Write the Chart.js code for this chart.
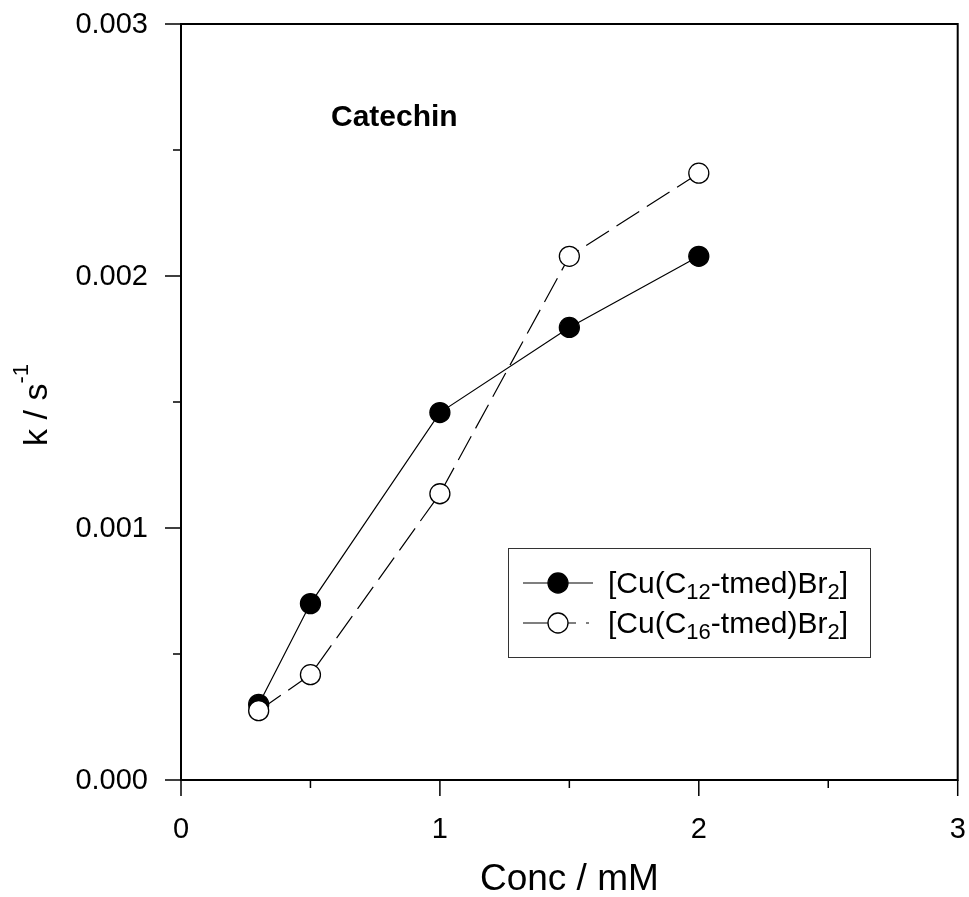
<!DOCTYPE html>
<html>
<head>
<meta charset="utf-8">
<script src="https://cdn.jsdelivr.net/npm/chart.js@4.4.1/dist/chart.umd.min.js"></script>
<style>
  html, body { margin: 0; padding: 0; background: #fff; overflow: hidden; }
  #wrap { width: 969px; height: 897px; position: relative; }
  canvas { display: block; }
</style>
</head>
<body>
<div id="wrap"><canvas id="c" width="969" height="897"></canvas></div>
<script>
// ---- data ----
const concC12 = [0.3, 0.5, 1.0, 1.5, 2.0];
const kC12    = [0.00030, 0.00070, 0.001458, 0.001796, 0.002078];
const concC16 = [0.3, 0.5, 1.0, 1.5, 2.0];
const kC16    = [0.000275, 0.000418, 0.001136, 0.002078, 0.002408];
const xMajorTicks = [0, 1, 2, 3];
const xMinorTicks = [0.5, 1.5, 2.5];
const yMajorTicks = [0, 0.001, 0.002, 0.003];
const yMinorTicks = [0.0005, 0.0015, 0.0025];
const yTickLabels = ['0.000', '0.001', '0.002', '0.003'];
const xTickLabels = ['0', '1', '2', '3'];
const chartLabel = 'Catechin';
const xTitle = 'Conc / mM';

const FONT = '"Liberation Sans", Arial, Helvetica, sans-serif';

function pts(xs, ys) { return xs.map((x, i) => ({ x: x, y: ys[i] })); }

const decor = {
  id: 'decor',
  afterDraw(chart) {
    const ctx = chart.ctx;
    const a = chart.chartArea;
    const xs = chart.scales.x, ys = chart.scales.y;
    ctx.save();
    // frame
    ctx.strokeStyle = '#000';
    ctx.lineWidth = 2;
    ctx.strokeRect(a.left, a.top, a.right - a.left, a.bottom - a.top);
    // ticks
    ctx.lineWidth = 1.5;
    ctx.beginPath();
    xMajorTicks.forEach(v => { const p = xs.getPixelForValue(v); ctx.moveTo(p, a.bottom); ctx.lineTo(p, a.bottom + 16); });
    xMinorTicks.forEach(v => { const p = xs.getPixelForValue(v); ctx.moveTo(p, a.bottom); ctx.lineTo(p, a.bottom + 8); });
    yMajorTicks.forEach(v => { const p = ys.getPixelForValue(v); ctx.moveTo(a.left, p); ctx.lineTo(a.left - 16, p); });
    yMinorTicks.forEach(v => { const p = ys.getPixelForValue(v); ctx.moveTo(a.left, p); ctx.lineTo(a.left - 8, p); });
    ctx.stroke();

    // tick labels
    ctx.fillStyle = '#000';
    ctx.font = '29px ' + FONT;
    ctx.textAlign = 'right';
    ctx.textBaseline = 'middle';
    yMajorTicks.forEach((v, i) => { ctx.fillText(yTickLabels[i], a.left - 33, ys.getPixelForValue(v) + 1); });
    ctx.textAlign = 'center';
    ctx.textBaseline = 'alphabetic';
    xMajorTicks.forEach((v, i) => { ctx.fillText(xTickLabels[i], xs.getPixelForValue(v), a.bottom + 58); });

    // x title
    ctx.font = '37px ' + FONT;
    ctx.fillText(xTitle, (a.left + a.right) / 2, 890);

    // y title with superscript
    ctx.save();
    ctx.translate(47, 405);
    ctx.rotate(-Math.PI / 2);
    ctx.textAlign = 'left';
    ctx.font = '34px ' + FONT;
    const base = 'k / s';
    const w = ctx.measureText(base).width;
    ctx.font = '22px ' + FONT;
    const wsup = ctx.measureText('-1').width;
    const total = w + wsup;
    ctx.font = '34px ' + FONT;
    ctx.fillText(base, -total / 2, 0);
    ctx.font = '22px ' + FONT;
    ctx.fillText('-1', -total / 2 + w, -19);
    ctx.restore();

    // chart label
    ctx.font = 'bold 30px ' + FONT;
    ctx.textAlign = 'left';
    ctx.fillText(chartLabel, 331, 126);

    // legend
    const lx = 508, ly = 548, lw = 362, lh = 109;
    ctx.lineWidth = 1;
    ctx.strokeStyle = '#333';
    ctx.strokeRect(lx + 0.5, ly + 0.5, lw, lh);

    const rows = [
      { y: 583, sub: '12', filled: true },
      { y: 623, sub: '16', filled: false }
    ];
    rows.forEach(r => {
      ctx.strokeStyle = '#000';
      ctx.lineWidth = 1.2;
      ctx.setLineDash([]);
      ctx.beginPath();
      if (r.filled) {
        ctx.moveTo(523, r.y); ctx.lineTo(593, r.y);
      } else {
        ctx.moveTo(523, r.y); ctx.lineTo(558, r.y);
        ctx.moveTo(558, r.y); ctx.lineTo(576, r.y);
        ctx.moveTo(586, r.y); ctx.lineTo(589, r.y);
      }
      ctx.stroke();
      ctx.beginPath();
      ctx.arc(558, r.y, 10, 0, Math.PI * 2);
      ctx.fillStyle = r.filled ? '#000' : '#fff';
      ctx.fill();
      ctx.lineWidth = 1.3;
      ctx.stroke();

      // text with subscripts
      ctx.fillStyle = '#000';
      ctx.textAlign = 'left';
      ctx.textBaseline = 'alphabetic';
      let x = 608;
      const by = r.y + 10;
      const parts = [['[Cu(C', 0], [r.sub, 1], ['-tmed)Br', 0], ['2', 1], [']', 0]];
      parts.forEach(p => {
        ctx.font = (p[1] ? '22px ' : '30px ') + FONT;
        ctx.fillText(p[0], x, by + (p[1] ? 6 : 0));
        x += ctx.measureText(p[0]).width;
      });
    });
    ctx.restore();
  }
};

const chart = new Chart(document.getElementById('c'), {
  type: 'scatter',
  data: {
    datasets: [
      {
        label: '[Cu(C12-tmed)Br2]',
        data: pts(concC12, kC12),
        showLine: true,
        borderColor: '#000',
        borderWidth: 1.2,
        backgroundColor: '#000',
        pointBackgroundColor: '#000',
        pointBorderColor: '#000',
        pointRadius: 10,
        pointBorderWidth: 1.3,
        order: 2
      },
      {
        label: '[Cu(C16-tmed)Br2]',
        data: pts(concC16, kC16),
        showLine: true,
        borderColor: '#000',
        borderWidth: 1.2,
        borderDash: [27, 9],
        backgroundColor: '#fff',
        pointBackgroundColor: '#fff',
        pointBorderColor: '#000',
        pointRadius: 10,
        pointBorderWidth: 1.3,
        order: 1
      }
    ]
  },
  options: {
    responsive: false,
    animation: false,
    devicePixelRatio: 1,
    layout: { padding: { top: 24, right: 7, left: 0, bottom: 0 } },
    plugins: { legend: { display: false }, tooltip: { enabled: false } },
    scales: {
      x: {
        type: 'linear', min: 0, max: 3,
        grid: { display: false, drawTicks: false },
        border: { display: false },
        ticks: { display: false, stepSize: 1 },
        afterFit(s) { s.height = 117; s.paddingLeft = 0; s.paddingRight = 0; }
      },
      y: {
        type: 'linear', min: 0, max: 0.003,
        grid: { display: false, drawTicks: false },
        border: { display: false },
        ticks: { display: false, stepSize: 0.001 },
        afterFit(s) { s.width = 181; s.paddingTop = 0; s.paddingBottom = 0; }
      }
    }
  },
  plugins: [decor]
});
</script>
</body>
</html>
